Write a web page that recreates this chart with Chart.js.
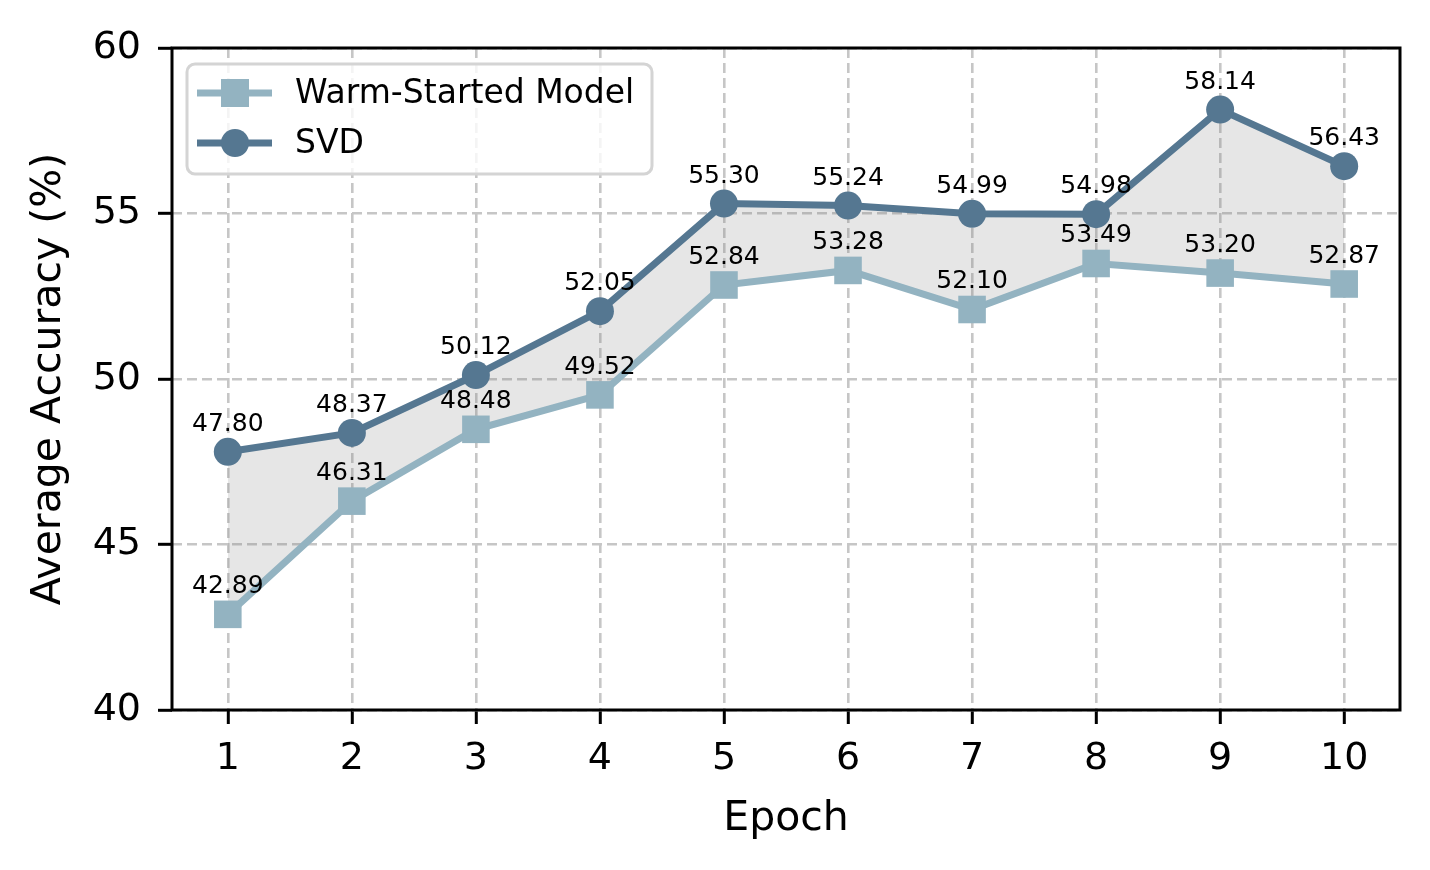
<!DOCTYPE html>
<html>
<head>
<meta charset="utf-8">
<script src="https://cdn.jsdelivr.net/npm/chart.js@4.4.0/dist/chart.umd.min.js"></script>
<style>
  body { margin: 0; background: #fff; }
  #wrap { width: 1430px; height: 870px; }
</style>
</head>
<body>
<div id="wrap"><canvas id="acc-chart" width="1430" height="870"></canvas></div>
<script>
// chart data
const epochs = [1, 2, 3, 4, 5, 6, 7, 8, 9, 10];
const warmStarted = [42.89, 46.31, 48.48, 49.52, 52.84, 53.28, 52.10, 53.49, 53.20, 52.87];
const svd = [47.80, 48.37, 50.12, 52.05, 55.30, 55.24, 54.99, 54.98, 58.14, 56.43];
const yTicks = [40, 45, 50, 55, 60];
const seriesNames = ['Warm-Started Model', 'SVD'];

const warmColor = '#93b3c1';
const svdColor = '#557791';
const FONT = "'DejaVu Sans', sans-serif";

function toPoints(values) {
    return epochs.map((e, i) => ({ x: e, y: values[i] }));
}

// value labels above each point
const valueLabels = {
    id: 'valueLabels',
    afterDatasetsDraw(chart) {
        const ctx = chart.ctx;
        ctx.save();
        ctx.font = '25px ' + FONT;
        ctx.fillStyle = '#000';
        ctx.textAlign = 'center';
        ctx.textBaseline = 'alphabetic';
        chart.data.datasets.forEach((ds, di) => {
            const meta = chart.getDatasetMeta(di);
            meta.data.forEach((pt, i) => {
                ctx.fillText(ds.data[i].y.toFixed(2), pt.x, pt.y - 21);
            });
        });
        ctx.restore();
    }
};

// axes frame and legend box
const frameAndLegend = {
    id: 'frameAndLegend',
    afterDraw(chart) {
        const ctx = chart.ctx;
        const a = chart.chartArea;
        ctx.save();
        ctx.strokeStyle = '#000';
        ctx.lineWidth = 3;
        ctx.strokeRect(a.left, a.top, a.right - a.left, a.bottom - a.top);

        // legend
        const bx = a.left + 15, by = a.top + 16, bw = 465, bh = 110;
        ctx.beginPath();
        ctx.roundRect(bx, by, bw, bh, 8);
        ctx.fillStyle = 'rgba(255,255,255,0.8)';
        ctx.fill();
        ctx.strokeStyle = '#d4d4d4';
        ctx.lineWidth = 3;
        ctx.stroke();

        const rows = [
            { name: seriesNames[0], color: warmColor, shape: 'rect', y: by + 29 },
            { name: seriesNames[1], color: svdColor, shape: 'circle', y: by + 79 }
        ];
        rows.forEach(r => {
            ctx.strokeStyle = r.color;
            ctx.lineWidth = 7;
            ctx.beginPath();
            ctx.moveTo(bx + 10, r.y);
            ctx.lineTo(bx + 85, r.y);
            ctx.stroke();
            ctx.fillStyle = r.color;
            const cx = bx + 48;
            if (r.shape === 'rect') {
                ctx.fillRect(cx - 14, r.y - 14, 28, 28);
            } else {
                ctx.beginPath();
                ctx.arc(cx, r.y, 14, 0, Math.PI * 2);
                ctx.fill();
            }
            ctx.fillStyle = '#000';
            ctx.font = '33px ' + FONT;
            ctx.textAlign = 'left';
            ctx.textBaseline = 'middle';
            ctx.fillText(r.name, bx + 108, r.y + 1);
        });
        ctx.restore();
    }
};

const gridCommon = {
    color: '#c6c6c6',
    lineWidth: 2.6,
    drawTicks: true,
    tickLength: 14,
    tickColor: '#000',
    tickWidth: 3,
    tickBorderDash: []
};

new Chart(document.getElementById('acc-chart'), {
    type: 'line',
    data: {
        datasets: [
            {
                label: seriesNames[0],
                data: toPoints(warmStarted),
                borderColor: warmColor,
                backgroundColor: warmColor,
                borderWidth: 7,
                pointStyle: 'rect',
                pointRadius: 19.5,
                pointBorderWidth: 0,
                pointBackgroundColor: warmColor,
                fill: false,
                tension: 0
            },
            {
                label: seriesNames[1],
                data: toPoints(svd),
                borderColor: svdColor,
                backgroundColor: 'rgba(128,128,128,0.2)',
                borderWidth: 7,
                pointStyle: 'circle',
                pointRadius: 14,
                pointBorderWidth: 0,
                pointBackgroundColor: svdColor,
                fill: '-1',
                tension: 0
            }
        ]
    },
    options: {
        responsive: false,
        animation: false,
        devicePixelRatio: 1,
        events: [],
        layout: { padding: { left: 0, top: 48, right: 30, bottom: 0 } },
        plugins: {
            legend: { display: false },
            tooltip: { enabled: false },
            filler: { drawTime: 'beforeDatasetsDraw' }
        },
        scales: {
            x: {
                type: 'linear',
                min: 0.55,
                max: 10.45,
                afterBuildTicks(scale) {
                    scale.ticks = epochs.map(v => ({ value: v }));
                },
                afterFit(scale) { scale.height = 160; },
                grid: gridCommon,
                border: { display: false, dash: [10, 5] },
                ticks: {
                    color: '#000',
                    font: { family: FONT, size: 38 },
                    padding: 12,
                    maxRotation: 0,
                    autoSkip: false
                },
                title: {
                    display: true,
                    text: 'Epoch',
                    color: '#000',
                    font: { family: FONT, size: 41 },
                    padding: { top: 0, bottom: 26 }
                }
            },
            y: {
                min: 40,
                max: 60,
                afterBuildTicks(scale) {
                    scale.ticks = yTicks.map(v => ({ value: v }));
                },
                afterFit(scale) { scale.width = 172; },
                grid: gridCommon,
                border: { display: false, dash: [10, 5] },
                ticks: {
                    color: '#000',
                    font: { family: FONT, size: 38 },
                    padding: 17
                },
                title: {
                    display: true,
                    text: 'Average Accuracy (%)',
                    color: '#000',
                    font: { family: FONT, size: 41 },
                    padding: { top: 25, bottom: 0 }
                }
            }
        }
    },
    plugins: [valueLabels, frameAndLegend]
});
</script>
</body>
</html>
